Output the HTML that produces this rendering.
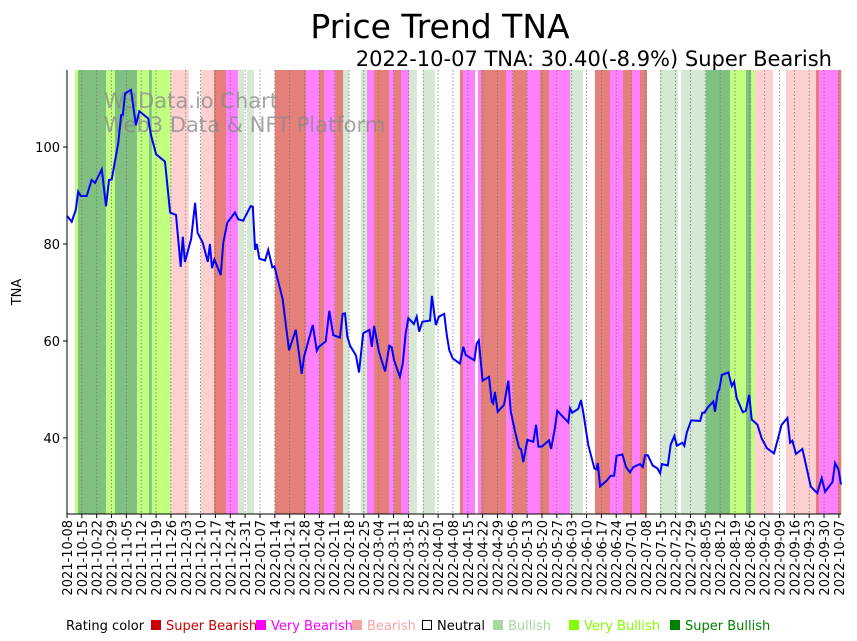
<!DOCTYPE html>
<html><head><meta charset="utf-8"><style>
body{margin:0;background:#fff;width:857px;height:641px;overflow:hidden;font-family:"Liberation Sans","DejaVu Sans",sans-serif}
svg{display:block}
</style></head><body>
<svg id="chart" width="857" height="641" xmlns="http://www.w3.org/2000/svg" font-family="DejaVu Sans, Liberation Sans, sans-serif">
<text x="440" y="38" font-size="33" text-anchor="middle">Price Trend TNA</text>
<text x="832" y="66" font-size="21" text-anchor="end">2022-10-07 TNA: 30.40(-8.9%) Super Bearish</text>
<g id="bands"></g>
<g id="grid"></g>
<g fill="#888" fill-opacity="0.75" font-size="21">
<text x="104" y="108">W3Data.io Chart</text><text x="104" y="132">Web3 Data &amp; NFT Platform</text></g>
<polyline id="line" fill="none" stroke="#0000ff" stroke-width="2"/>
<g id="axes"></g>
<text transform="translate(21,292) rotate(-90)" font-size="13" text-anchor="middle">TNA</text>
<g id="legend" font-size="13"></g>
</svg>
<script>
const bandStarts=[3.8,5.2,18.4,22.6,33,38.7,40,49,57.5,63.2,69.3,75,80.6,83.5,84.9,88.2,98,112.7,118.8,121.2,126.4,130.2,133,138.6,141.5,144.8,151.9,154.2,157.5,161.3,165,167.9,173.5,185.3,186.7,192.4,193.8,195.2,207,210.3,216.9,223,227.3,237.2,243.3,249,256,262.2,266.5,270.2,273.5,275,279.6,288.1,289.5,301.3,312.7,320.2,322.6,324.4,332.9,339,353.2,354.6,363.6];
const bandRatings=['VBu','SBu','VBu','SBu','VBu','SBu','VBu','Be','N','Be','SBe','VBe','Bu','N','Bu','N','SBe','VBe','SBe','VBe','SBe','Bu','N','Bu','VBe','SBe','VBe','SBe','VBe','Bu','N','Bu','N','SBe','VBe','N','VBe','SBe','VBe','SBe','VBe','SBe','VBe','Bu','N','SBe','VBe','SBe','VBe','SBe','N','N','Bu','N','Bu','SBu','VBu','SBu','VBu','Be','N','Be','SBe','VBe','SBe'];
const days=[0,2.2,4.1,5.3,6.5,9.3,11.6,13.2,16.4,18.4,19.8,21.1,24.2,25.5,26.3,27.4,30.2,32.5,34.1,38.3,39.6,42,46.2,48.6,51.4,53.6,54.6,55.6,58.5,60.4,61.6,64,66.4,67.4,68.4,69.5,72.5,73.7,75.6,79.2,80.8,83.1,86.6,87.6,88.7,89.5,90.7,93.4,94.9,96.8,97.8,101.7,104.7,107.9,110.7,111.8,115.9,117.8,118.8,122,123.7,125.6,128.7,130,131.1,132.2,133.5,136.3,137.7,139.7,142.6,143.8,144.8,147.1,150,152,153.1,154.2,157,158.3,159.7,161,163.6,164.9,166.1,167.6,171.2,172.1,173.9,175.4,177.9,179.1,180.3,181.9,185.3,186.9,188,192.1,193.2,194.2,196,199,200.3,201,201.8,203.1,206.1,208.1,209.3,211.3,213.2,214.1,215.2,217.1,219.9,221.2,222.3,223.9,227.3,228.3,230.1,231.2,236.4,237.2,238.3,241.1,242.4,243.5,245.8,248.7,249.8,250.3,251.4,254.5,256.4,258,259.2,261.9,263.6,265.5,267.1,270.2,271.5,272.6,273.9,276.2,278.4,279.7,280.5,283.3,284.7,286.4,287.6,290.2,291.1,292.3,294.3,298.6,299.6,300.6,302.2,304.8,305.6,306.9,307.6,308.8,311.9,313.5,314.6,315.8,318.7,320.1,321.7,322.9,325.6,327.6,330,333.4,335.2,337,339.7,341,342.1,343.8,346.8,348.5,350.7,353.8,355.9,357.5,361,362.2,363.8,365];
const prices=[85.8,84.6,87,90.8,89.9,89.9,93.2,92.6,95.4,87.8,93.2,93.3,100.9,106.6,106.6,111.1,111.8,104.5,107.4,105.9,102.5,98.5,97,86.5,86,75.3,81.5,76.3,81,88.5,82.3,80.3,76.3,80,75,76.8,73.6,80.3,84.4,86.5,85.1,84.8,87.8,87.7,78.8,80,77,76.6,78.8,75.2,75.4,68.6,58.1,62.3,53.2,56.8,63.3,58,58.8,59.9,66.2,61.2,60.7,65.6,65.7,60.9,59,57,53.5,61.6,62.3,58.8,63.1,57.8,53.7,59,58.7,56.1,52.6,55.3,61.6,64.7,63.5,65,61.9,64,64.2,69.3,63.3,65,65.6,61.2,58.1,56.4,55.3,58.8,57.1,56,59.5,60.1,51.8,52.6,47.5,47.1,49.5,45.4,46.8,51.8,45.4,41.3,37.9,37.7,35,39.6,39.2,42.7,38.2,38.2,39.5,37.7,42,45.6,43.2,46.1,45.2,46,47.8,45.1,38.6,33.7,33.5,34.8,30,31.2,32.2,32.2,36.3,36.6,34,32.9,34,34.6,34,36.4,36.4,34.3,33.7,32.7,34.6,34.3,38.6,40.4,38.4,39,38.4,41.1,43.6,43.5,45.2,45.2,46.3,47.5,45.4,49.5,50,53,53.5,50.7,51.6,48.2,45.3,45.6,48.9,43.8,42.7,39.9,37.9,36.8,39.7,42.7,44.1,39,39.4,36.7,37.7,34.4,30,28.6,31.7,28.9,30.9,34.8,33.5,30.4];
const yTicks=[40,60,80,100];
const legendLabels=['Super Bearish','Very Bearish','Bearish','Neutral','Bullish','Very Bullish','Super Bullish'];
const L=67,R=841,T=70,B=514,NDAYS=365,YMIN=24.3,YMAX=115.9;
const xs=d=>L+d*(R-L)/NDAYS, ys=v=>B-(v-YMIN)*(B-T)/(YMAX-YMIN);
const NS='http://www.w3.org/2000/svg';
const colors={SBe:'#e57f7a',VBe:'#ff80ff',Be:'#ffd0d0',N:'#ffffff',Bu:'#d5e8d4',VBu:'#c0ff80',SBu:'#80c080'};
function mk(tag,attrs,parent){const e=document.createElementNS(NS,tag);for(const k in attrs)e.setAttribute(k,attrs[k]);parent.appendChild(e);return e;}
const bg=document.getElementById('bands');
for(let i=0;i<bandStarts.length;i++){
  const end=i+1<bandStarts.length?bandStarts[i+1]:NDAYS;
  const r=mk('rect',{x:xs(bandStarts[i]),y:T,width:xs(end)-xs(bandStarts[i])+0.3,height:B-T,fill:colors[bandRatings[i]]},bg);
  
  
}
const grid=document.getElementById('grid'),axes=document.getElementById('axes');
const start=new Date(Date.UTC(2021,9,8));
for(let k=0;k*7<=NDAYS;k++){
  const x=xs(k*7);
  const g=mk('line',{x1:x,x2:x,y1:T,y2:B,stroke:'#777','stroke-width':0.8,'stroke-dasharray':'1.5,2'},grid);
  
  
  mk('line',{x1:x,x2:x,y1:B,y2:B+4,stroke:'#000'},axes);
  const d=new Date(start.getTime()+k*7*864e5);
  const t=mk('text',{transform:`translate(${x+5},${B+6}) rotate(-90)`,'font-size':13,'text-anchor':'end'},axes);
  t.textContent=d.toISOString().slice(0,10);
  
  
}
yTicks.forEach(v=>{
  const y=ys(v);
  mk('line',{x1:L-4,x2:L,y1:y,y2:y,stroke:'#000'},axes);
  const t=mk('text',{x:L-7,y:y+5,'font-size':13,'text-anchor':'end'},axes);
  t.textContent=v;
  
  
});
mk('line',{x1:L,x2:L,y1:T,y2:B,stroke:'#000','stroke-width':1},axes);
mk('line',{x1:L,x2:R,y1:B,y2:B,stroke:'#000','stroke-width':1},axes);
document.getElementById('line').setAttribute('points',days.map((d,i)=>xs(d).toFixed(1)+','+ys(prices[i]).toFixed(1)).join(' '));
const lg=document.getElementById('legend');
const lt=mk('text',{x:66,y:630},lg);lt.textContent='Rating color';
const lc=['#cc0000','#ff00ff','#f4a6a6','#000','#a8d8a0','#80ff00','#008000'];
const lx=[151,256,352,422,493,569,670];
legendLabels.forEach((s,i)=>{
  if(i===3) mk('rect',{x:lx[i]+0.5,y:620.5,width:9,height:9,fill:'#fff',stroke:'#000'},lg);
  else mk('rect',{x:lx[i],y:620,width:10,height:10,fill:lc[i]},lg);
  const t=mk('text',{x:lx[i]+15,y:630,fill:i===3?'#000':lc[i]},lg);
  t.textContent=s;
  
  
});
</script>
</body></html>
